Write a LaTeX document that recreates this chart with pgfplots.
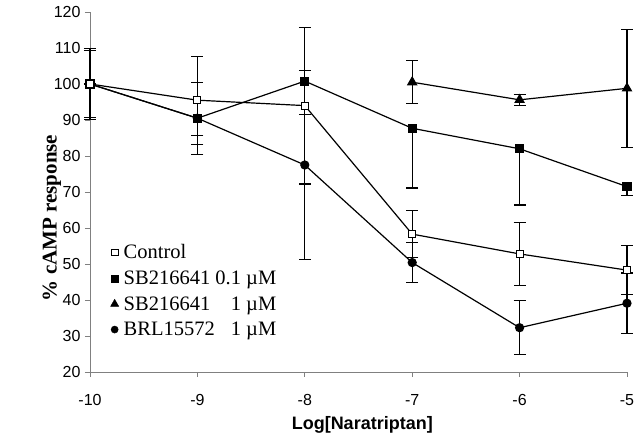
\documentclass[border=0pt]{standalone}
\usepackage{fontspec}
\setmainfont{Liberation Serif}
\newfontfamily\arial{Liberation Sans}
\usepackage{pgfplots}
\pgfplotsset{compat=1.18}
\usepackage{pgfplotstable}

\pgfplotstableread{
x y e
-10 100 9.3
-9 95.5 12.2
-8 94.0 21.8
-7 58.3 6.6
-6 52.8 8.8
-5 48.3 6.8
}\control
\pgfplotstableread{
x y e
-10 100 0
-9 90.5 4.7
-8 100.8 9.3
-7 87.7 16.6
-6 82.0 15.6
-5 71.5 2.4
}\sbA
\pgfplotstableread{
x y e
-7 100.5 6.0
-6 95.6 1.5
-5 98.8 16.4
}\sbB
\pgfplotstableread{
x y e
-10 100 9.8
-9 90.5 10.0
-8 77.5 26.2
-7 50.4 5.5
-6 32.3 7.5
-5 39.1 8.4
}\brl

\begin{document}
\begin{tikzpicture}
\begin{axis}[
  scale only axis,
  width=537pt, height=360pt,
  at={(0,0)}, anchor=south west,
  xmin=-10, xmax=-5, ymin=20, ymax=120,
  axis x line*=bottom, axis y line*=left,
  axis line style={-, draw=black!50, line width=0.9pt},
  tick style={draw=black!50, line width=0.9pt},
  tick align=outside, major tick length=5pt,
  xtick={-10,-9,-8,-7,-6,-5},
  xticklabels={-10,-9,-8,-7,-6,-5},
  ytick={20,30,40,50,60,70,80,90,100,110,120},
  yticklabels={20,30,40,50,60,70,80,90,100,110,120},
  tick label style={font=\arial\fontsize{16}{18}\selectfont},
  xticklabel style={yshift=-14pt},
  yticklabel style={xshift=-1pt},
  xlabel={\arial\bfseries Log[Naratriptan]},
  xlabel style={font=\fontsize{18}{20}\selectfont, at={(axis description cs:0.507,-0.147)}, anchor=center},
  ylabel={\bfseries \% cAMP response},
  ylabel style={font=\fontsize{21}{24}\selectfont, at={(axis description cs:-0.071,0.428)}, anchor=center},
  clip=false,
  error bars/error bar style={line width=1.2pt, black},
  error bars/error mark options={line width=1.2pt, mark size=6pt, black, rotate=90},
  legend style={draw=none, fill=none, at={(0.038,0.36)}, anchor=north west,
     font=\fontsize{20.5}{23}\selectfont, row sep=6.5pt, column sep=3pt, inner sep=0pt},
  legend cell align=left,
  legend image code/.code={\draw[#1] plot coordinates {(0.15cm,0cm)};},
]
\addplot[forget plot, black, line width=1.2pt, mark=*, mark size=4pt, mark options={fill=black, solid},
  error bars/.cd, y dir=both, y explicit] table[x=x, y=y, y error=e] {\brl};
\addplot[forget plot, black, line width=1.2pt, mark=square*, mark size=4pt, mark options={fill=black, solid},
  error bars/.cd, y dir=minus, y explicit] table[x=x, y=y, y error=e] {\sbA};
\addplot[forget plot, black, line width=1.2pt, mark=triangle*, mark size=5pt, mark options={fill=black, solid},
  error bars/.cd, y dir=both, y explicit] table[x=x, y=y, y error=e] {\sbB};
\addplot[forget plot, black, line width=1.2pt, mark=square*, mark size=3.5pt, mark options={fill=white, draw=black, line width=1pt, solid},
  error bars/.cd, y dir=both, y explicit] table[x=x, y=y, y error=e] {\control};

\addlegendimage{only marks, mark=square*, mark size=3.3pt, mark options={fill=white, draw=black, line width=0.8pt}}
\addlegendentry{Control}
\addlegendimage{only marks, black, mark=square*, mark size=3.6pt, mark options={fill=black}}
\addlegendentry{\makebox[4.47em][l]{SB216641}\makebox[2.97em][r]{0.1 µM}}
\addlegendimage{only marks, black, mark=triangle*, mark size=4.7pt, mark options={fill=black}}
\addlegendentry{\makebox[4.47em][l]{SB216641}\makebox[2.97em][r]{1 µM}}
\addlegendimage{only marks, black, mark=*, mark size=3.6pt, mark options={fill=black}}
\addlegendentry{\makebox[4.47em][l]{BRL15572}\makebox[2.97em][r]{1 µM}}
\end{axis}
\pgfresetboundingbox
\path (-90pt,-67pt) rectangle (550pt,372pt);
\end{tikzpicture}
\end{document}
